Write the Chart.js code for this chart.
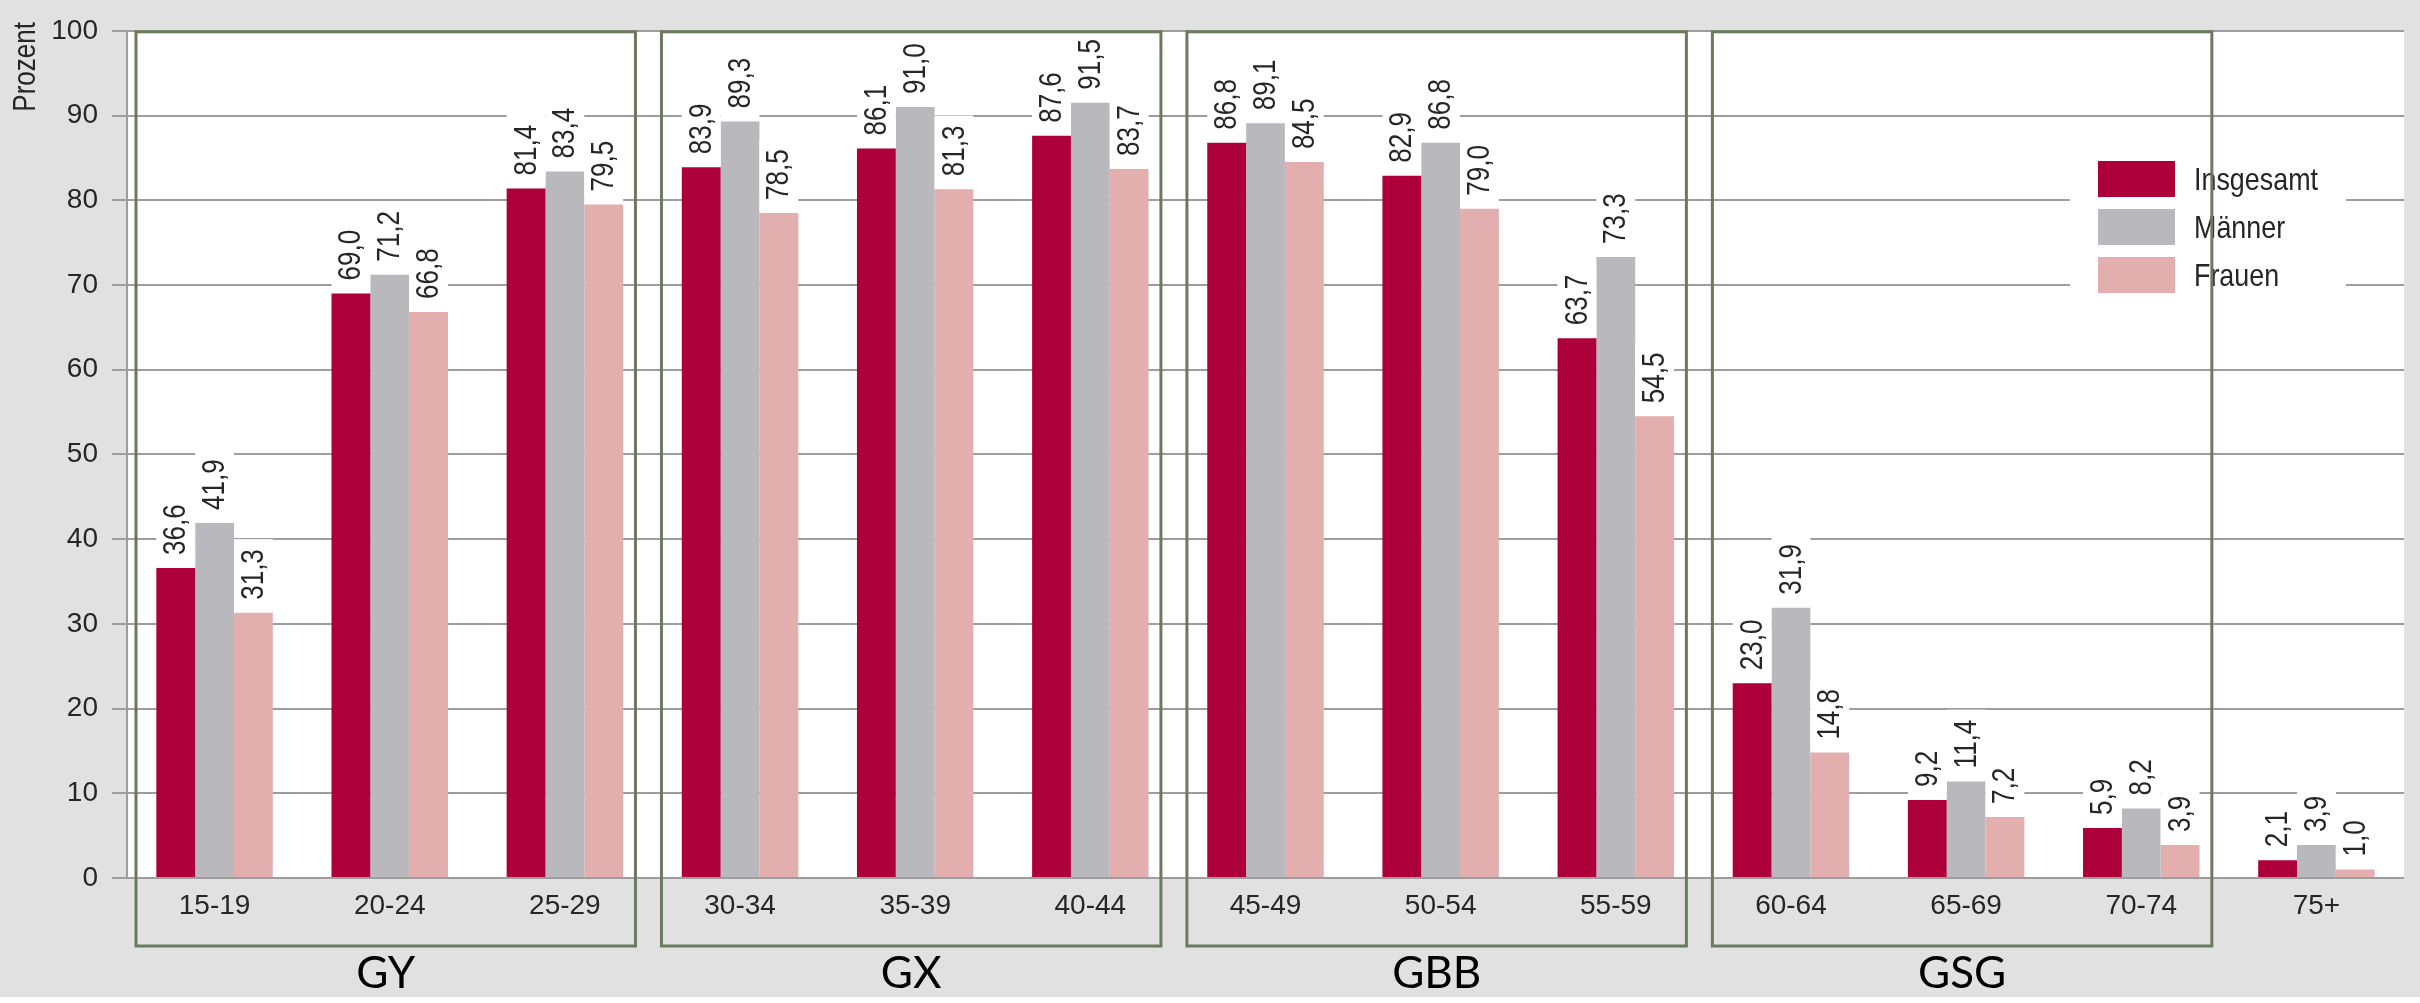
<!DOCTYPE html>
<html><head><meta charset="utf-8">
<script src="https://cdn.jsdelivr.net/npm/chart.js@4.4.1/dist/chart.umd.min.js"></script>
<style>
html,body{margin:0;padding:0;background:#ffffff;}
#wrap{position:relative;width:2420px;height:997px;background:#e1e1e1;}
canvas{display:block;}
</style></head><body>
<div id="wrap"><canvas id="c" width="2420" height="997"></canvas></div>
<script>
const categories = ['15-19','20-24','25-29','30-34','35-39','40-44','45-49','50-54','55-59','60-64','65-69','70-74','75+'];
const insgesamt = [36.6, 69.0, 81.4, 83.9, 86.1, 87.6, 86.8, 82.9, 63.7, 23.0, 9.2, 5.9, 2.1];
const maenner   = [41.9, 71.2, 83.4, 89.3, 91.0, 91.5, 89.1, 86.8, 73.3, 31.9, 11.4, 8.2, 3.9];
const frauen    = [31.3, 66.8, 79.5, 78.5, 81.3, 83.7, 84.5, 79.0, 54.5, 14.8, 7.2, 3.9, 1.0];
const seriesNames = ['Insgesamt', 'Männer', 'Frauen'];
const yTickValues = [0, 10, 20, 30, 40, 50, 60, 70, 80, 90, 100];
const yTitle = 'Prozent';
const groupLabels = ['GY', 'GX', 'GBB', 'GSG'];
const groupFirst = [0, 3, 6, 9];
const groupLast  = [2, 5, 8, 11];

const SANS = "'Liberation Sans', Arial, sans-serif";
const NARROW_X = 0.84;
const colors = ['#ad003b', '#b9b9bd', '#e2aeae'];
const textColor = '#262626';
const gridColor = '#9d9d9d';
const boxColor = '#6b7a5d';

function narrowText(ctx, txt, x, y, angle, align, size) {
  ctx.save();
  ctx.font = size + 'px ' + SANS;
  ctx.translate(x, y);
  ctx.rotate(angle);
  ctx.scale(NARROW_X, 1);
  ctx.textAlign = align;
  ctx.textBaseline = 'middle';
  ctx.fillText(txt, 0, 0);
  ctx.restore();
}

const decor = {
  id: 'decor',
  beforeDraw(chart) {
    const {ctx, chartArea: a} = chart;
    ctx.save();
    ctx.fillStyle = '#ffffff';
    ctx.fillRect(a.left, a.top, a.right - a.left, a.bottom - a.top);
    ctx.restore();
  },
  afterDatasetsDraw(chart) {
    const ctx = chart.ctx;
    const a = chart.chartArea;
    // value labels with white backing
    ctx.save();
    chart.data.datasets.forEach((ds, di) => {
      const meta = chart.getDatasetMeta(di);
      meta.data.forEach((el, i) => {
        const txt = ds.data[i].toFixed(1).replace('.', ',');
        ctx.font = '31px ' + SANS;
        const L = ctx.measureText(txt).width * NARROW_X;
        const gap = 13, padTop = 10;
        const w = el.width;
        const top = Math.max(a.top + 2, el.y - gap - L - padTop);
        ctx.fillStyle = '#ffffff';
        ctx.fillRect(el.x - w / 2, top, w, el.y - 1 - top);
        ctx.fillStyle = textColor;
        narrowText(ctx, txt, el.x + 1, el.y - gap, -Math.PI / 2, 'left', 31);
      });
    });
    ctx.restore();

    // legend
    ctx.save();
    ctx.fillStyle = '#ffffff';
    ctx.fillRect(2070, 136, 276, 168);
    const rowY = [161, 209, 257];
    chart.data.datasets.forEach((ds, di) => {
      ctx.fillStyle = ds.backgroundColor;
      ctx.fillRect(2098, rowY[di], 77, 36);
      ctx.fillStyle = textColor;
      narrowText(ctx, ds.label, 2194, rowY[di] + 20, 0, 'left', 32);
    });
    ctx.restore();

    // group boxes
    const xs = chart.scales.x;
    const half = (xs.getPixelForValue(1) - xs.getPixelForValue(0)) / 2;
    ctx.save();
    ctx.strokeStyle = boxColor;
    ctx.lineWidth = 3;
    groupLabels.forEach((g, gi) => {
      const l = xs.getPixelForValue(groupFirst[gi]) - half + 9;
      const r = xs.getPixelForValue(groupLast[gi]) + half - 17;
      ctx.strokeRect(l, a.top + 1, r - l, 946 - a.top - 1);
      ctx.fillStyle = '#000000';
      ctx.font = "44px Lato, 'Open Sans', sans-serif";
      ctx.textAlign = 'center';
      ctx.textBaseline = 'middle';
      ctx.fillText(g, (l + r) / 2, 974);
    });
    ctx.restore();

    // y title
    ctx.save();
    ctx.fillStyle = textColor;
    narrowText(ctx, yTitle, 26, 22, -Math.PI / 2, 'right', 31);
    ctx.restore();
  }
};

new Chart(document.getElementById('c'), {
  type: 'bar',
  data: {
    labels: categories,
    datasets: [
      {label: seriesNames[0], data: insgesamt, backgroundColor: colors[0]},
      {label: seriesNames[1], data: maenner, backgroundColor: colors[1]},
      {label: seriesNames[2], data: frauen, backgroundColor: colors[2]}
    ]
  },
  options: {
    responsive: false,
    animation: false,
    devicePixelRatio: 1,
    layout: {padding: {left: 0, right: 16, top: 23, bottom: 0}},
    datasets: {bar: {categoryPercentage: 0.665, barPercentage: 1.0, borderWidth: 0}},
    plugins: {legend: {display: false}, tooltip: {enabled: false}},
    scales: {
      x: {
        grid: {display: false, drawTicks: false},
        border: {display: false},
        ticks: {font: {family: SANS, size: 28}, color: textColor, padding: 11, maxRotation: 0, autoSkip: false},
        afterFit(s) { s.height = 119; }
      },
      y: {
        min: 0, max: 100,
        afterBuildTicks(s) { s.ticks = yTickValues.map(v => ({value: v})); },
        grid: {color: gridColor, lineWidth: 2, tickLength: 15, drawTicks: true},
        border: {display: true, color: gridColor, width: 2},
        ticks: {font: {family: SANS, size: 28}, color: textColor, padding: 14},
        afterFit(s) { s.width = 127; }
      }
    }
  },
  plugins: [decor]
});
</script>
</body></html>
